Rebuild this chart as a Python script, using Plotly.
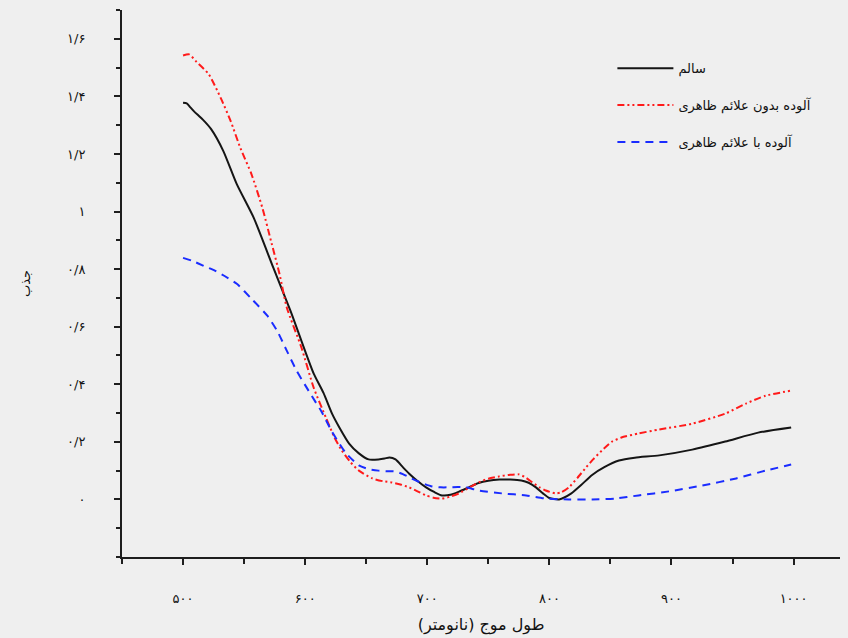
import plotly.graph_objects as go

# ---- data ----
healthy_x = [500, 503, 506, 509, 516, 523, 533, 544, 558, 574, 588, 597, 607, 615, 622, 628,
             636, 644, 652, 660, 665, 669, 674, 680, 685, 692, 699, 706, 712, 719, 726, 734,
             742, 750, 759, 768, 777, 783, 789, 795, 800, 808, 818, 826, 835, 845, 857, 870,
             890, 917, 944, 971, 998]
healthy_y = [1.378, 1.376, 1.362, 1.348, 1.32, 1.286, 1.21, 1.095, 0.977, 0.804, 0.655, 0.55,
             0.437, 0.37, 0.298, 0.25, 0.194, 0.16, 0.139, 0.139, 0.142, 0.146, 0.139, 0.112,
             0.09, 0.064, 0.042, 0.025, 0.014, 0.016, 0.027, 0.042, 0.057, 0.065, 0.069, 0.069,
             0.066, 0.058, 0.042, 0.02, 0.005, 0.0, 0.021, 0.05, 0.085, 0.112, 0.135, 0.145,
             0.153, 0.173, 0.201, 0.232, 0.25]

nosym_x = [500, 505, 511, 521, 531, 539, 547, 556, 565, 572, 579, 585, 597, 607, 617, 624,
           630, 637, 644, 655, 664, 671, 678, 685, 692, 699, 705, 712, 719, 726, 734, 742,
           750, 759, 767, 775, 781, 786, 792, 797, 805, 810, 816, 823, 830, 836, 843, 851,
           859, 873, 890, 917, 944, 961, 977, 998]
nosym_y = [1.542, 1.546, 1.52, 1.477, 1.393, 1.314, 1.22, 1.13, 1.012, 0.898, 0.783, 0.666,
           0.527, 0.388, 0.284, 0.215, 0.17, 0.13, 0.1, 0.073, 0.063, 0.059, 0.052, 0.042,
           0.028, 0.014, 0.006, 0.003, 0.01, 0.021, 0.04, 0.059, 0.072, 0.08, 0.085, 0.087,
           0.075, 0.059, 0.042, 0.031, 0.021, 0.025, 0.042, 0.075, 0.111, 0.14, 0.17, 0.2,
           0.215, 0.229, 0.243, 0.263, 0.298, 0.333, 0.36, 0.378]

sym_x = [500, 508, 517, 526, 534, 544, 556, 569, 577, 585, 593, 601, 609, 613, 622, 633,
         644, 652, 660, 667, 674, 680, 687, 695, 704, 711, 718, 725, 732, 742, 761, 781,
         797, 816, 835, 854, 873, 898, 925, 953, 977, 998]
sym_y = [0.839, 0.828, 0.811, 0.795, 0.776, 0.749, 0.697, 0.638, 0.586, 0.516, 0.447, 0.39,
         0.335, 0.308, 0.235, 0.163, 0.118, 0.105, 0.1, 0.098, 0.097, 0.088, 0.073, 0.058,
         0.045, 0.042, 0.042, 0.043, 0.042, 0.031, 0.021, 0.014, 0.003, 0.0, 0.0, 0.003,
         0.014, 0.028, 0.048, 0.073, 0.1, 0.121]

series_names = ["سالم", "آلوده بدون علائم ظاهری", "آلوده با علائم ظاهری"]

x_tickvals = [500, 600, 700, 800, 900, 1000]
x_ticktext = ["۵۰۰", "۶۰۰", "۷۰۰", "۸۰۰", "۹۰۰", "۱۰۰۰"]
y_tickvals = [0, 0.2, 0.4, 0.6, 0.8, 1.0, 1.2, 1.4, 1.6]
y_ticktext = ["۰", "۰/۲", "۰/۴", "۰/۶", "۰/۸", "۱", "۱/۲", "۱/۴", "۱/۶"]

x_title = "طول موج (نانومتر)"
y_title = "جذب"

FONT = "DejaVu Sans"
BG = "#efefef"
AX = "#1e1e1e"

fig = go.Figure()
fig.add_trace(go.Scatter(x=healthy_x, y=healthy_y, mode="lines", name=series_names[0],
                         legendgroup="a",
                         line=dict(color="#151515", width=2, shape="spline", smoothing=0.6)))
fig.add_trace(go.Scatter(x=nosym_x, y=nosym_y, mode="lines", name=series_names[1],
                         legendgroup="b",
                         line=dict(color="#ff1a1a", width=2, shape="spline", smoothing=0.6,
                                   dash="7px,3px,2px,3px,2px,3px")))
fig.add_trace(go.Scatter(x=sym_x, y=sym_y, mode="lines", name=series_names[2],
                         legendgroup="c",
                         line=dict(color="#1a2cff", width=2, shape="spline", smoothing=0.6,
                                   dash="8px,6px")))

fig.update_layout(
    width=848, height=638,
    margin=dict(l=122, r=8, t=10, b=81, autoexpand=False),
    paper_bgcolor=BG, plot_bgcolor=BG,
    font=dict(family=FONT, size=13, color="#111"),
    showlegend=True,
    legend=dict(x=0.683, y=0.921, xanchor="left", yanchor="top",
                bgcolor="rgba(0,0,0,0)", font=dict(family=FONT, size=13, color="#111"),
                itemwidth=56, tracegroupgap=17, traceorder="grouped"),
    xaxis=dict(range=[450, 1038], showgrid=False, zeroline=False, automargin=False,
               showline=True, linecolor=AX, linewidth=2,
               tickmode="array", tickvals=x_tickvals, ticktext=x_ticktext,
               ticks="outside", ticklen=6, tickwidth=2, tickcolor=AX,
               ticklabelstandoff=22, tickfont=dict(size=13),
               minor=dict(tickmode="linear", tick0=450, dtick=50, ticks="outside",
                          ticklen=5, tickwidth=2, tickcolor=AX, showgrid=False),
               title=dict(text=x_title, standoff=14, font=dict(size=16))),
    yaxis=dict(range=[-0.2, 1.7], showgrid=False, zeroline=False, automargin=False,
               showline=True, linecolor=AX, linewidth=2,
               tickmode="array", tickvals=y_tickvals, ticktext=y_ticktext,
               ticks="outside", ticklen=6, tickwidth=2, tickcolor=AX,
               ticklabelstandoff=26, tickfont=dict(size=13),
               minor=dict(tickmode="linear", tick0=-0.2, dtick=0.1, ticks="outside",
                          ticklen=4, tickwidth=2, tickcolor=AX, showgrid=False),
               title=dict(text=y_title, standoff=33, font=dict(size=13))),
)

fig.write_html("out.html", config={"displayModeBar": False},
               post_script="document.body.style.margin='0';document.body.style.background='#efefef';")
